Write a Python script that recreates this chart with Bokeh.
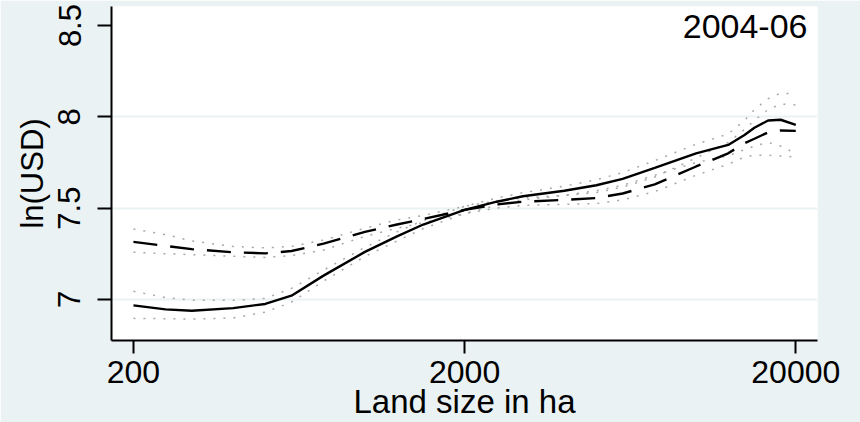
from bokeh.plotting import figure
from bokeh.models import Range1d, FixedTicker, Label
from bokeh.embed import file_html
from bokeh.resources import INLINE

# ---- data ----
land_size = [200, 250, 300, 400, 500, 600, 750, 1000, 1250, 1500, 2000, 2500,
             3000, 4000, 5000, 6000, 7500, 10000, 12500, 14000, 15000, 16500,
             18000, 20000]

fit_solid = [6.967, 6.945, 6.938, 6.952, 6.975, 7.02, 7.13, 7.26, 7.345, 7.41,
             7.49, 7.535, 7.565, 7.595, 7.625, 7.66, 7.72, 7.80, 7.846, 7.90,
             7.94, 7.98, 7.984, 7.956]
ci_solid_upper = [7.044, 7.01, 6.995, 6.995, 7.005, 7.06, 7.16, 7.285, 7.37,
                  7.432, 7.51, 7.555, 7.585, 7.62, 7.655, 7.695, 7.76, 7.85,
                  7.906, 7.98, 8.04, 8.10, 8.13, 8.125]
ci_solid_lower = [6.896, 6.894, 6.892, 6.898, 6.93, 6.985, 7.10, 7.235, 7.32,
                  7.388, 7.47, 7.515, 7.545, 7.57, 7.595, 7.625, 7.68, 7.75,
                  7.786, 7.82, 7.84, 7.86, 7.84, 7.80]

fit_dashed = [7.315, 7.293, 7.275, 7.258, 7.252, 7.265, 7.305, 7.37, 7.41,
              7.44, 7.49, 7.52, 7.535, 7.545, 7.555, 7.58, 7.63, 7.728, 7.80,
              7.855, 7.88, 7.915, 7.925, 7.923]
ci_dashed_upper = [7.385, 7.355, 7.32, 7.29, 7.282, 7.29, 7.325, 7.39, 7.435,
                   7.46, 7.51, 7.54, 7.555, 7.57, 7.585, 7.615, 7.67, 7.775,
                   7.86, 7.93, 7.98, 8.04, 8.07, 8.065]
ci_dashed_lower = [7.258, 7.25, 7.245, 7.236, 7.23, 7.24, 7.27, 7.345, 7.39,
                   7.42, 7.47, 7.50, 7.515, 7.52, 7.525, 7.545, 7.59, 7.68,
                   7.74, 7.78, 7.79, 7.79, 7.785, 7.78]

x_ticks = [200, 2000, 20000]
x_tick_labels = ["200", "2000", "20000"]
y_ticks = [7, 7.5, 8, 8.5]
y_tick_labels = ["7", "7.5", "8", "8.5"]
y_grid_ticks = [7, 7.5, 8]
panel_title = "2004-06"
x_title = "Land size in ha"
y_title = "ln(USD)"

# ---- styling ----
BG = "#EAF2F3"
FONT = "Liberation Sans"

p = figure(width=860, height=422, x_axis_type="log",
           x_range=Range1d(171.7, 23260), y_range=Range1d(6.7747, 8.6044),
           output_backend="svg", toolbar_location=None,
           min_border_left=111, min_border_right=43,
           min_border_top=6, min_border_bottom=82)
p.border_fill_color = BG
p.background_fill_color = "white"
p.outline_line_color = None

p.xgrid.visible = False
p.ygrid.ticker = FixedTicker(ticks=y_grid_ticks)
p.ygrid.grid_line_color = BG
p.ygrid.grid_line_width = 2

# x axis
p.xaxis.ticker = FixedTicker(ticks=x_ticks)
p.xaxis.major_label_overrides = dict(zip(x_ticks, x_tick_labels))
p.xaxis.axis_label = x_title
p.xaxis.minor_tick_line_color = None
p.xaxis.major_tick_in = 0
p.xaxis.major_tick_out = 13
p.xaxis.major_tick_line_width = 2
p.xaxis.axis_line_width = 2
p.xaxis.major_label_text_font = FONT
p.xaxis.major_label_text_font_size = "32px"
p.xaxis.major_label_text_color = "black"
p.xaxis.major_label_standoff = 7
p.xaxis.axis_label_text_font = FONT
p.xaxis.axis_label_text_font_size = "33px"
p.xaxis.axis_label_text_font_style = "normal"
p.xaxis.axis_label_text_color = "black"
p.xaxis.axis_label_standoff = -3

# y axis
p.yaxis.ticker = FixedTicker(ticks=y_ticks)
p.yaxis.major_label_overrides = dict(zip(y_ticks, y_tick_labels))
p.yaxis.axis_label = y_title
p.yaxis.minor_tick_line_color = None
p.yaxis.major_tick_in = 0
p.yaxis.major_tick_out = 14
p.yaxis.major_tick_line_width = 2
p.yaxis.axis_line_width = 2
p.yaxis.major_label_orientation = "vertical"
p.yaxis.major_label_text_font = FONT
p.yaxis.major_label_text_font_size = "31px"
p.yaxis.major_label_text_color = "black"
p.yaxis.major_label_standoff = 17
p.yaxis.axis_label_text_font = FONT
p.yaxis.axis_label_text_font_size = "31px"
p.yaxis.axis_label_text_font_style = "normal"
p.yaxis.axis_label_text_color = "black"
p.yaxis.axis_label_standoff = 6

# confidence bands (dotted gray)
for band in (ci_solid_upper, ci_solid_lower, ci_dashed_upper, ci_dashed_lower):
    p.line(land_size, band, line_color="#a8a8a8", line_width=1.5,
           line_dash="2 8")

# fitted lines
p.line(land_size, fit_solid, line_color="black", line_width=2.4)
p.line(land_size, fit_dashed, line_color="black", line_width=2.4,
       line_dash="24 13")

p.add_layout(Label(x=p.x_range.end, y=p.y_range.end, x_offset=-10,
                   y_offset=-20, text=panel_title, text_align="right",
                   text_baseline="alphabetic", text_font=FONT,
                   text_font_size="34px", text_color="black"))

open("out.html", "w").write(file_html(p, INLINE))
